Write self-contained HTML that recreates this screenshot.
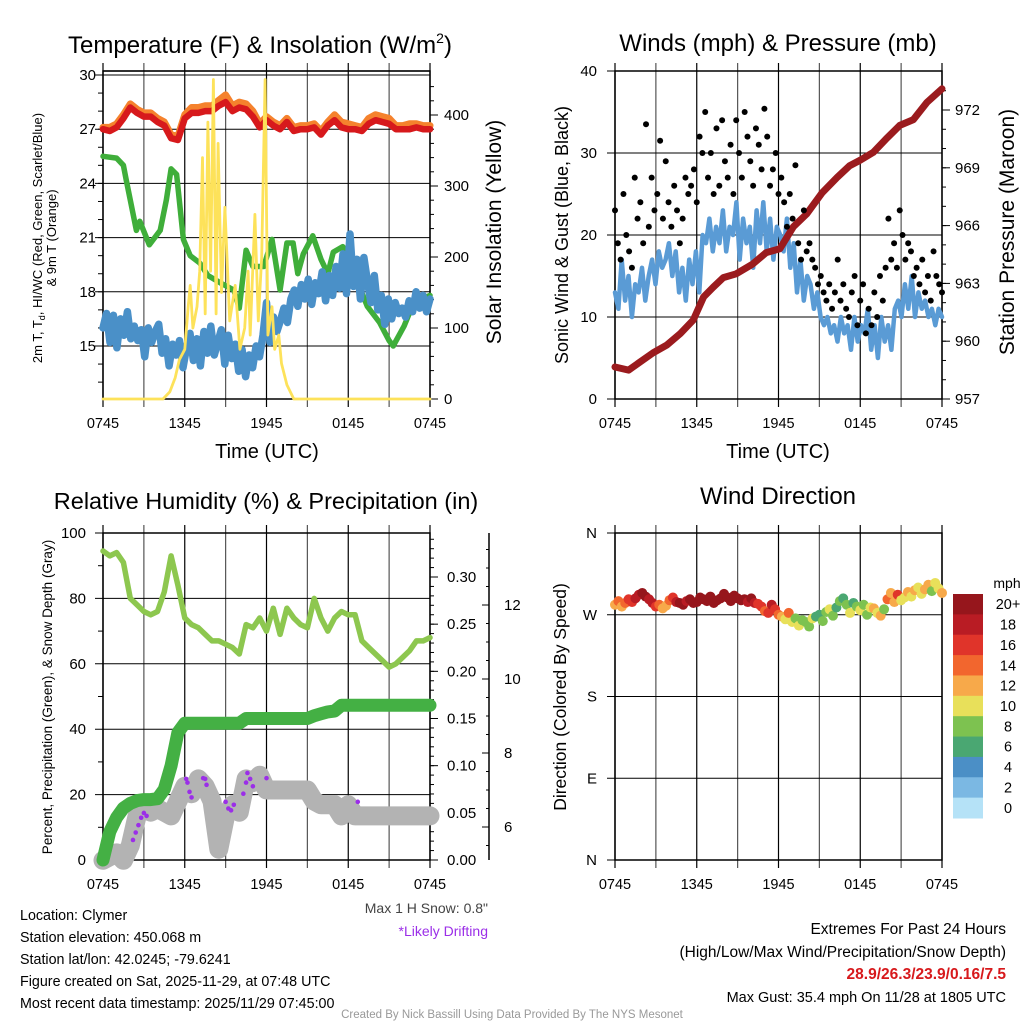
<!DOCTYPE html>
<html><head><meta charset="utf-8"><style>
html,body{margin:0;padding:0;background:#fff;}
svg{display:block;font-family:"Liberation Sans",sans-serif;}
</style></head><body>
<svg id="c" width="1024" height="1024" viewBox="0 0 1024 1024">
<rect width="1024" height="1024" fill="#fff"/>
<g id="g"></g>
</svg>
<script>
// ---------- DATA ----------
const timeLabels = ["0745","1345","1945","0145","0745"];
const tempTicks = [15,18,21,24,27,30];
const solarTicks = [0,100,200,300,400];
const windTicks = [0,10,20,30,40];
const presTicks = [957,960,963,966,969,972];
const rhTicks = [0,20,40,60,80,100];
const precipTicks = [0,0.05,0.10,0.15,0.20,0.25,0.30];
const snowTicks = [6,8,10,12];
const dirTicks = ["N","E","S","W","N"];
const speedBins = ["0","2","4","6","8","10","12","14","16","18","20+"];
const speedColors = ["#b5e2f7","#7bb8e3","#4b8fc6","#4aa772","#7dc250","#e8e05a","#f7a94a","#f2662e","#e0342a","#b91c24","#96161c"];

const tempRed = [27.0,26.9,27.1,27.6,28.2,27.9,27.7,27.7,27.4,27.2,26.5,26.4,27.6,27.9,27.9,28.0,28.0,28.3,28.5,28.0,28.2,28.1,27.7,27.1,27.5,27.2,27.0,27.4,26.9,27.0,27.0,27.1,26.7,27.2,27.5,27.1,27.0,27.0,26.9,27.3,27.5,27.4,27.3,27.0,27.0,27.0,27.1,27.0,27.0];
const tempOrange = [27.1,27.1,27.3,27.8,28.4,28.1,27.9,27.9,27.6,27.4,26.7,26.6,27.8,28.2,28.2,28.3,28.3,28.6,28.9,28.3,28.5,28.4,28.0,27.3,27.7,27.4,27.2,27.6,27.1,27.2,27.2,27.3,26.9,27.4,27.8,27.4,27.3,27.2,27.1,27.6,27.8,27.7,27.6,27.2,27.2,27.3,27.3,27.2,27.2];
const dewHours = [0,1,1.5,1.7,2.45,2.7,3.4,4.2,4.65,5,5.4,5.9,6.4,7.1,7.7,8.6,9.6,10,10.5,11,11.8,12.4,13,13.5,13.95,14.3,14.7,15.4,16,16.5,16.9,17.6,18.6,19.4,20.3,21,21.3,22.1,22.8,24];
const dewVals = [25.5,25.4,25.0,24.2,21.4,21.9,20.6,21.4,23.1,24.8,24.5,20.9,20.0,19.6,18.9,18.5,18.1,17.1,20.3,19.4,19.4,20.9,18.1,20.7,20.7,19.0,20.1,21.1,19.8,19.0,20.2,20.5,18.7,17.2,16.3,15.3,15.0,16.1,17.4,17.8];
const wcVals = [16,16.8,15.2,16.7,14.9,16.5,15.6,16.9,15.4,16.1,15.3,15.9,14.4,16.0,15.2,15.8,16.2,14.6,15.4,13.9,15.1,14.5,15.3,13.8,14.9,15.7,14.2,15.4,13.9,15.8,14.6,16.1,14.5,15.2,15.9,14.0,15.6,14.3,15.1,13.6,14.8,13.3,14.5,13.8,15.0,14.4,15.6,17.4,15.2,16.6,15.8,16.4,17.1,16.3,17.6,18.1,17.2,18.4,17.6,18.7,17.3,18.5,17.9,19.1,17.5,18.9,17.8,19.4,18.2,20.1,17.9,21.2,18.3,19.8,17.6,19.9,18.6,17.4,18.9,17.0,17.8,16.2,17.6,16.5,17.4,16.8,17.1,16.6,17.5,16.9,18.0,17.1,17.8,16.9,17.6];
const solarHours = [0,4.4,4.9,5.3,5.6,6.0,6.25,6.4,6.6,6.9,7.1,7.3,7.5,7.7,7.9,8.1,8.3,8.45,8.7,8.95,9.3,9.7,10.05,10.4,10.65,10.8,11.15,11.4,11.65,11.9,12.1,12.4,12.6,12.9,13.1,13.5,14,24];
const solarVals = [0,0,10,30,55,70,130,160,100,130,180,340,120,390,180,450,120,360,150,270,110,160,70,100,180,90,260,110,200,450,90,130,70,90,50,20,0,0];

const presHours = [0,1,1.8,2.8,3.8,4.8,5.75,6.5,7.2,7.95,8.9,10.1,11.1,12.1,13.1,14.06,15.2,16.3,17.2,18,18.95,19.9,20.9,21.9,22.9,24];
const presVals = [958.66,958.5,958.9,959.4,959.8,960.4,961.1,962.3,962.8,963.3,963.5,964.0,964.6,964.8,965.95,966.6,967.7,968.5,969.1,969.4,969.8,970.5,971.2,971.5,972.4,973.1];
const windVals = [13,11,17,12,15,10,14,13,16,12,15,17,14,18,16,17,19,15,18,13,16,12,17,14,18,13,20,19,22,18,21,19,23,18,21,20,24,17,22,19,21,16,23,19,24,18,22,17,21,20,18,22,16,19,13,17,12,15,14,11,13,10,9,10,8,9,7,10,8,9,6,10,7,9,8,11,6,9,5,10,7,9,6,11,12,10,14,11,15,10,13,11,12,10,11,9,11,10];
const gustVals = [23,19,17,25,20,18,16,27,22,24,19,33.5,21,27,23,25,31.5,22,29,24,21,26,23,19,22,27,25,26,28,24,32,30,35,27,30,25,33,26,34,29,27,31,25,34,30,27,35,32,29,26,33,31,28,35.4,32,26,28,30,25,27,24,21,25,22,28.5,19,17,23,18,19,17,16,14,15,13,12,14,11,13,17,12,14,11,10,13,15,9,12,14,8,11,9,13,10,15,12,16,22,17,19,16,23,20,17,19,18,15,16,14,17,13,15,12,18,15,14,13];

const rhVals = [94.5,93,94,91,80,78,76,75,76,82,93,84,74,72,71,69,67,67,66,65,63,72,71,74,70,77,69,77,74,72,71,80,74,70,74,76,75,75,67,65,63,61,59,60,62,64,67,67,68];
const precipVals = [0,0.03,0.045,0.055,0.06,0.063,0.064,0.064,0.065,0.075,0.1,0.135,0.145,0.145,0.145,0.145,0.145,0.145,0.145,0.145,0.145,0.15,0.15,0.15,0.15,0.15,0.15,0.15,0.15,0.15,0.15,0.153,0.155,0.157,0.158,0.164,0.164,0.164,0.164,0.164,0.164,0.164,0.164,0.164,0.164,0.164,0.164,0.164,0.164];
const snowVals = [5.1,5.2,5.3,5.1,5.5,6.3,6.5,6.4,6.5,6.4,6.3,6.7,7.1,6.9,7.3,7.1,6.7,5.4,6.3,6.6,6.4,7.3,7.2,7.4,7.0,7.0,7.0,7.0,7.0,7.0,7.0,6.7,6.6,6.6,6.6,6.3,6.6,6.3,6.3,6.3,6.3,6.3,6.3,6.3,6.3,6.3,6.3,6.3,6.3];
const driftHours = [2.2,2.4,2.6,2.8,3.0,3.2,6.1,6.2,6.35,6.5,7.35,7.5,7.6,9.0,9.2,9.4,9.6,10.3,10.5,10.6,10.8,11.0,12.0,18.7];
const driftVals = [5.65,5.85,6.05,6.25,6.38,6.3,7.3,7.2,6.95,6.8,7.32,7.3,7.14,6.68,6.5,6.45,6.6,6.9,7.2,7.46,7.3,7.1,7.32,6.68];

const dirVals = [281,285,279,283,287,284,288,292,294,290,287,283,279,281,277,280,286,289,284,283,281,285,287,283,284,289,287,285,290,283,286,288,293,289,285,291,288,286,287,284,288,283,282,279,274,272,281,276,270,268,265,272,262,266,258,264,262,257,266,268,270,263,273,276,269,278,285,288,281,272,283,279,275,281,270,278,277,272,269,276,287,294,284,292,286,289,295,290,297,300,293,298,303,296,305,299,294];
const spdVals = [12,14,13,15,17,16,18,19,20,21,19,18,17,15,13,12,14,17,19,21,20,18,20,21,21,22,20,21,21,23,20,21,22,21,20,21,20,22,21,19,20,18,17,16,15,16,19,17,15,13,11,14,10,9,11,8,9,8,10,7,6,9,8,10,9,7,8,6,9,10,7,8,10,9,9,11,12,10,13,9,14,13,12,16,11,10,12,11,12,11,10,13,12,9,10,11,12];

// ---------- DRAW ----------
const NS="http://www.w3.org/2000/svg";
const G=document.getElementById('g');
function el(tag,attrs,parent){const e=document.createElementNS(NS,tag);for(const k in attrs)e.setAttribute(k,attrs[k]);(parent||G).appendChild(e);return e;}
function txt(s,x,y,size,anchor,extra,parent){const t=el('text',Object.assign({x:x,y:y,'font-size':size,'text-anchor':anchor||'middle',fill:'#000'},extra||{}),parent);t.textContent=s;return t;}
function mkX(x0,x1){return h=>x0+h*(x1-x0)/24;}
function mkY(v0,y0,v1,y1){return v=>y0+(v-v0)*(y1-y0)/(v1-v0);}
function even(n){const a=[];for(let i=0;i<n;i++)a.push(i*24/(n-1));return a;}
function poly(xs,ys,xf,yf,color,w,parent){const p=xs.map((h,i)=>xf(h).toFixed(1)+','+yf(ys[i]).toFixed(1)).join(' ');return el('polyline',{points:p,fill:'none',stroke:color,'stroke-width':w,'stroke-linejoin':'round','stroke-linecap':'round'},parent);}

function frame(x0,y0,x1,y1,name){
  const g=el('g',{});
  
  
  for(let k=0;k<=8;k++){const x=x0+k*(x1-x0)/8;el('line',{x1:x,y1:y0-8,x2:x,y2:y1+8,stroke:(k%2? '#555':'#000'),'stroke-width':1.2},g);}
  el('rect',{x:x0,y:y0,width:x1-x0,height:y1-y0,fill:'none',stroke:'#000','stroke-width':1.5},g);
  const lab=el('g',{},g);
  
  
  timeLabels.forEach((s,i)=>txt(s,x0+i*(x1-x0)/4,y1+29,14.5,'middle',{},lab));
  return g;
}
function hgrid(vals,yf,x0,x1,labx,fmt,g,anchor){vals.forEach(v=>{const y=yf(v);el('line',{x1:x0-8,y1:y,x2:x1,y2:y,stroke:'#000','stroke-width':1},g);if(labx!=null)txt(fmt?fmt(v):String(v),labx,y+5,15,anchor||'end',{},g);});}
function ticks(vals,yf,x,dir,len,g){vals.forEach(v=>{const y=yf(v);el('line',{x1:x,y1:y,x2:x+dir*len,y2:y,stroke:'#000','stroke-width':1},g);});}
function range(a,b,s){const r=[];for(let v=a;v<=b+1e-9;v+=s)r.push(+v.toFixed(4));return r;}

// ===== Panel 1 =====
{const X=mkX(103,430), Y=mkY(15,346,30,75), YS=mkY(0,399,400,115);
 const f=frame(103,71,430,399,'temperature-panel');
 hgrid(tempTicks,Y,103,430,96,null,f);
 el('line',{x1:103,y1:71,x2:430,y2:71,stroke:'#000','stroke-width':1.2},f);
 ticks(range(13,29,1),Y,103,-1,5,f);
 ticks(solarTicks,YS,430,1,8,f);
 ticks(range(20,440,20),YS,430,1,4,f);
 solarTicks.forEach(v=>txt(String(v),444,YS(v)+5,15,'start',{},f));
 const s=poly(even(49),tempOrange,X,Y,'#f5822d',7);
 
 
 const r=poly(even(49),tempRed,X,Y,'#d7191c',6.5);
 
 
 const d=poly(dewHours,dewVals,X,Y,'#3fae3a',5.5);
 
 
 const b=poly(even(wcVals.length),wcVals,X,Y,'#4a90c8',7.5);
 
 
 const so=poly(solarHours,solarVals,X,YS,'#fde25a',2.8);
 
 
 const t=txt('Temperature (F) & Insolation (W/m',260,53,24,'middle');
 
 
 const ts=el('tspan',{'font-size':14,dy:-10},t);ts.textContent='2';
 const ts2=el('tspan',{dy:10},t);ts2.textContent=')';
 const yl=txt('2m T, T',0,0,13,'middle',{transform:'translate(42,238) rotate(-90)'});
 
 
 const sub=el('tspan',{'font-size':9,dy:3},yl);sub.textContent='d';
 const rest=el('tspan',{dy:-3},yl);rest.textContent=', HI/WC (Red, Green, Scarlet/Blue)';
 const yl2=txt('& 9m T (Orange)',0,0,13,'middle',{transform:'translate(56,238) rotate(-90)'});
 
 
 const yr=txt('Solar Insolation (Yellow)',0,0,21,'middle',{transform:'translate(501,232) rotate(-90)'});
 
 
 const xt=txt('Time (UTC)',267,458,20);
 
 
}

// ===== Panel 2 =====
{const X=mkX(615,942), Y=mkY(0,399,40,71), YP=mkY(957,399,972,110);
 const f=frame(615,71,942,399,'winds-panel');
 hgrid(windTicks,Y,615,942,597,null,f);
 ticks(range(958,973,1),YP,942,1,4,f);
 ticks(presTicks,YP,942,1,8,f);
 presTicks.forEach(v=>txt(String(v),955,YP(v)+5,15,'start',{},f));
 const w=poly(even(windVals.length),windVals,X,Y,'#5a9bd5',4.5);
 
 
 const p=poly(presHours,presVals,X,YP,'#9b1b1e',7);
 
 
 const gg=el('g',{});
 
 
 const gh=even(gustVals.length);
 gustVals.forEach((v,i)=>{const c=el('circle',{cx:X(gh[i]),cy:Y(v),r:3,fill:'#000'},gg);});
 const t=txt('Winds (mph) & Pressure (mb)',778,51,24);
 
 
 const yl=txt('Sonic Wind & Gust (Blue, Black)',0,0,18,'middle',{transform:'translate(568,235) rotate(-90)'});
 
 
 const yr=txt('Station Pressure (Maroon)',0,0,21,'middle',{transform:'translate(1014,232) rotate(-90)'});
 
 
 const xt=txt('Time (UTC)',778,458,20);
 
 
}

// ===== Panel 3 =====
{const X=mkX(103,430), Y=mkY(0,860,100,533), YPr=mkY(0,860,0.30,577), YSn=mkY(6,827,12,605);
 const f=frame(103,533,430,860,'humidity-panel');
 hgrid(rhTicks,Y,103,430,86,null,f);
 ticks(range(10,90,20),Y,103,-1,5,f);
 ticks(range(0,0.34,0.01),YPr,430,1,4,f);
 ticks(precipTicks,YPr,430,1,8,f);
 precipTicks.forEach(v=>txt(v.toFixed(2),447,YPr(v)+5,15,'start',{},f));
 el('line',{x1:489,y1:533,x2:489,y2:860,stroke:'#000','stroke-width':1.5},f);
 ticks(range(5.5,13.5,0.5),YSn,489,-1,3,f);
 ticks(snowTicks,YSn,489,-1,7,f);
 snowTicks.forEach(v=>txt(String(v),504,YSn(v)+5,15,'start',{},f));
 const s=poly(even(49),snowVals,X,YSn,'#b3b3b3',19);
 
 
 const p=poly(even(49),precipVals,X,YPr,'#44b044',13);
 
 
 const rh=poly(even(49),rhVals,X,Y,'#8dc74f',5.5);
 
 
 const dg=el('g',{});
 
 
 driftVals.forEach((v,i)=>{const c=el('circle',{cx:X(driftHours[i]),cy:YSn(v),r:2.3,fill:'#9b2ee8'},dg);});
 const t=txt('Relative Humidity (%) & Precipitation (in)',266,509,23.5);
 
 
 const yl=txt('Percent, Precipitation (Green), & Snow Depth (Gray)',0,0,13.5,'middle',{transform:'translate(52,697) rotate(-90)'});
 
 
}

// ===== Panel 4 =====
{const X=mkX(615,942), Y=mkY(0,860,360,533);
 const f=frame(615,533,942,860,'wind-direction-panel');
 dirTicks.forEach((s,i)=>{const y=Y(i*90);el('line',{x1:607,y1:y,x2:942,y2:y,stroke:'#000','stroke-width':1},f);txt(s,597,y+5,15,'end',{},f);});
 const dg=el('g',{});
 
 
 const dh=even(dirVals.length);
 dirVals.forEach((v,i)=>{const b=Math.min(10,Math.floor(spdVals[i]/2));const c=el('circle',{cx:X(dh[i]),cy:Y(v),r:5,fill:speedColors[b]},dg);});
 const t=txt('Wind Direction',778,504,24);
 
 
 const yl=txt('Direction (Colored By Speed)',0,0,17.5,'middle',{transform:'translate(566,697) rotate(-90)'});
 
 
 const lg=el('g',{});
 
 
 txt('mph',1007,588,14,'middle',{},lg);
 const bh=(818-594)/11;
 speedBins.forEach((s,i)=>{const k=10-i;const y=594+i*bh;el('rect',{x:953,y:y,width:30,height:bh+0.5,fill:speedColors[k]},lg);txt(speedBins[k],1008,y+bh/2+5,14.5,'middle',{},lg);});
}

// ===== Footer text =====
const left=["Location: Clymer","Station elevation: 450.068 m","Station lat/lon: 42.0245; -79.6241","Figure created on Sat, 2025-11-29, at 07:48 UTC","Most recent data timestamp: 2025/11/29 07:45:00"];
left.forEach((s,i)=>{const t=txt(s,20,920+i*22,14.3,'start');});
{const a=txt('Max 1 H Snow: 0.8"',488,913,14,'end',{fill:'#444'});
 const b=txt('*Likely Drifting',488,936,14,'end',{fill:'#9b2ee8'});
 const c=txt('Extremes For Past 24 Hours',1006,934,15.5,'end');
 const d=txt('(High/Low/Max Wind/Precipitation/Snow Depth)',1006,957,15.5,'end');
 const e=txt('28.9/26.3/23.9/0.16/7.5',1006,979,15.5,'end',{fill:'#d7191c','font-weight':'bold'});
 const f=txt('Max Gust: 35.4 mph On 11/28 at 1805 UTC',1006,1002,14.5,'end');
 const g=txt('Created By Nick Bassill Using Data Provided By The NYS Mesonet',512,1018,11.5,'middle',{fill:'#999'});}
</script>
</body></html>
